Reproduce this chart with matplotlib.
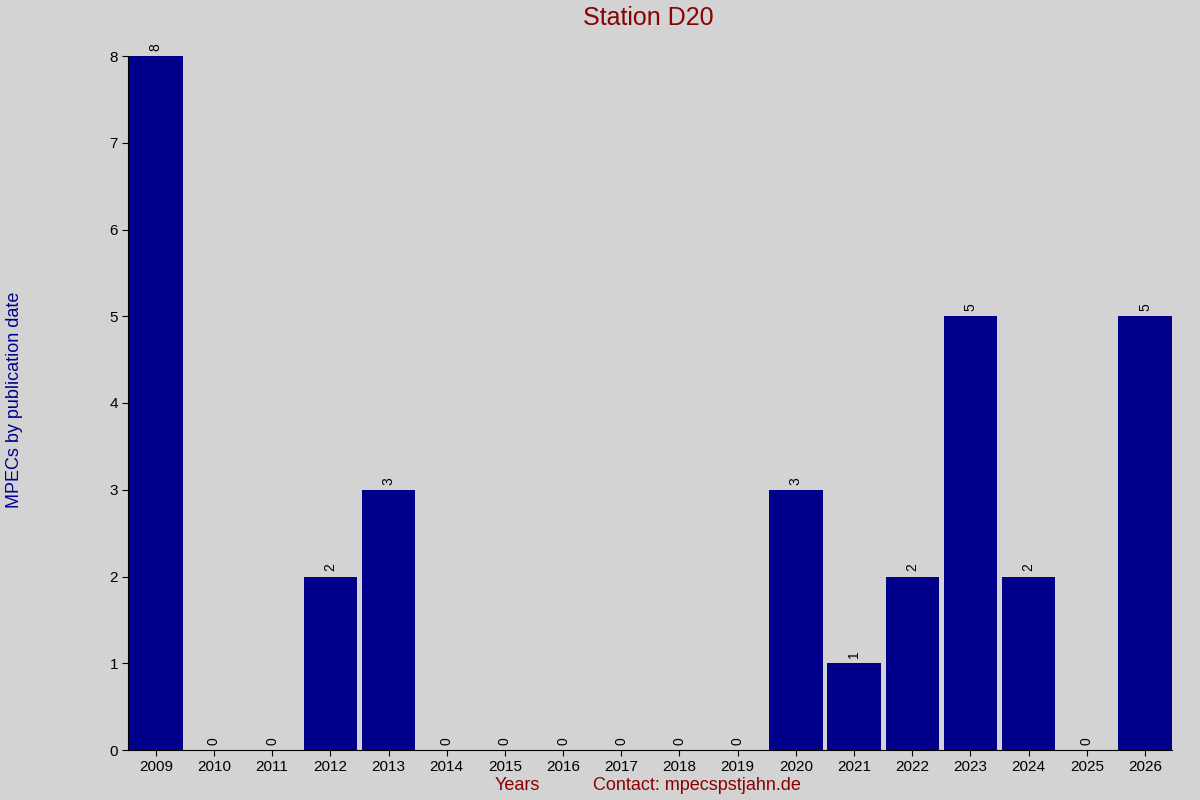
import matplotlib
matplotlib.use("Agg")
import matplotlib.pyplot as plt

years = [str(y) for y in range(2009, 2027)]
counts = [8, 0, 0, 2, 3, 0, 0, 0, 0, 0, 0, 3, 1, 2, 5, 2, 0, 5]

bg = "#d3d3d3"
fig = plt.figure(figsize=(12, 8), dpi=100, facecolor=bg)
ax = fig.add_axes([0.107, 0.0625, 0.87, 0.8675], facecolor=bg)
x = list(range(len(years)))
ax.bar(x, counts, width=0.92, color="#00008b")
for xi, c in zip(x, counts):
    ax.text(xi, c + 0.06, str(c), rotation=90, ha="center", va="bottom", fontsize=10, family="Liberation Sans")
    ax.plot([xi], [8], marker=",", color="black")
ax.set_xlim(-0.47, len(years) - 0.53)
ax.set_ylim(0, 8)
ax.set_xticks(x)
ax.set_xticklabels(years, family="Liberation Sans", fontsize=11)
ax.set_yticks(range(9))
ax.set_yticklabels([str(i) for i in range(9)], family="Liberation Sans", fontsize=11)
for s in ["top", "right"]:
    ax.spines[s].set_visible(False)
ax.tick_params(length=4)
fig.text(0.54, 0.977, "Station D20", ha="center", va="center", color="#8b0000", fontsize=18, family="Liberation Sans")
fig.text(0.012, 0.5, "MPECs by publication date", rotation=90, ha="center", va="center", color="#00008b", fontsize=13, family="Liberation Sans")
fig.text(0.431, 0.018, "Years", ha="center", va="center", color="#8b0000", fontsize=13, family="Liberation Sans")
fig.text(0.581, 0.018, "Contact: mpecspstjahn.de", ha="center", va="center", color="#8b0000", fontsize=13, family="Liberation Sans")
fig.savefig("out.png", facecolor=bg)
